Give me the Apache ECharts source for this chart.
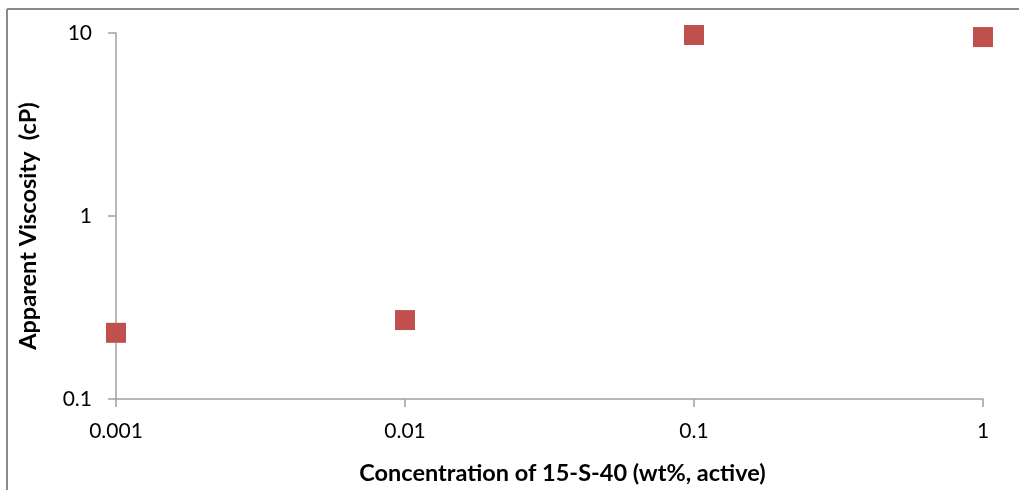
<!DOCTYPE html>
<html><head><meta charset="utf-8">
<script src="https://cdn.jsdelivr.net/npm/echarts@6/dist/echarts.min.js"></script>
<style>html,body{margin:0;padding:0;background:#fff}#c{width:1019px;height:490px}</style>
</head><body><div id="c"></div>
<script>
const concentrations = [0.001, 0.01, 0.1, 1];
const viscosity = [0.23, 0.27, 9.75, 9.5];
const xTicks = ['0.001', '0.01', '0.1', '1'];
const yTicks = ['0.1', '1', '10'];

const chart = echarts.init(document.getElementById('c'));
const fmt = (v, list) => {
  const l = Math.round(Math.log10(v));
  for (const t of list) if (Math.round(Math.log10(parseFloat(t))) === l) return t;
  return '';
};
chart.setOption({
  animation: false,
  backgroundColor: '#fff',
  grid: {left: 116, right: 36, top: 33, bottom: 89},
  graphic: [
    {type: 'line', shape: {x1: 7, y1: 9, x2: 1019, y2: 9}, style: {stroke: '#8a8a8a', lineWidth: 2}},
    {type: 'line', shape: {x1: 7, y1: 9, x2: 7, y2: 490}, style: {stroke: '#8a8a8a', lineWidth: 2}}
  ],
  xAxis: {
    type: 'log', logBase: 10, min: 0.001, max: 1,
    name: 'Concentration of 15-S-40 (wt%, active)',
    nameLocation: 'middle', nameGap: 62,
    nameTextStyle: {fontFamily: 'Lato', fontSize: 23.5, fontWeight: 'bold', color: '#000', padding: [0, 0, 0, 26]},
    axisLine: {lineStyle: {color: '#a0a0a0', width: 1.5}},
    axisTick: {show: true, length: 8, lineStyle: {color: '#a0a0a0', width: 1.5}},
    minorTick: {show: false},
    splitLine: {show: false},
    axisLabel: {fontFamily: 'Lato', fontSize: 21, color: '#000', margin: 22,
      formatter: v => fmt(v, xTicks)}
  },
  yAxis: {
    type: 'log', logBase: 10, min: 0.1, max: 10,
    name: 'Apparent Viscosity  (cP)',
    nameLocation: 'middle', nameGap: 76,
    nameTextStyle: {fontFamily: 'Lato', fontSize: 23.5, fontWeight: 'bold', color: '#000', padding: [0, 20, 0, 0]},
    axisLine: {show: true, lineStyle: {color: '#a0a0a0', width: 1.5}},
    axisTick: {show: true, length: 8, lineStyle: {color: '#a0a0a0', width: 1.5}},
    splitLine: {show: false},
    axisLabel: {fontFamily: 'Lato', fontSize: 21, color: '#000', margin: 24,
      formatter: v => fmt(v, yTicks)}
  },
  series: [{
    type: 'scatter',
    symbol: 'rect', symbolSize: 20, clip: false,
    itemStyle: {color: '#C0504D', opacity: 1},
    data: concentrations.map((c, i) => [c, viscosity[i]])
  }]
});
</script></body></html>
